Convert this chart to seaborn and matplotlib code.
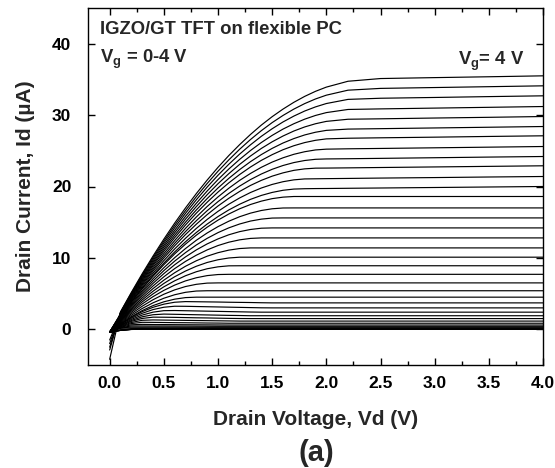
import matplotlib
matplotlib.use("Agg")
import matplotlib.pyplot as plt
from matplotlib.ticker import MultipleLocator, FormatStrFormatter
import pandas as pd
import seaborn as sns

# Drain voltage sample points (V)
vd = [0.0, 0.1, 0.2, 0.3, 0.4, 0.5, 0.6, 0.7, 0.8, 0.9, 1.0,
      1.1, 1.2, 1.3, 1.4, 1.5, 1.6, 1.7, 1.8, 1.9, 2.0,
      2.2, 2.5, 3.0, 3.5, 4.0]

# Gate voltages (V), 0.1 V steps from 4 V down to 0 V
vg = [4.0, 3.9, 3.8, 3.7, 3.6, 3.5, 3.4, 3.3, 3.2, 3.1, 3.0,
      2.9, 2.8, 2.7, 2.6, 2.5, 2.4, 2.3, 2.2, 2.1, 2.0,
      1.9, 1.8, 1.7, 1.6, 1.5, 1.4, 1.3, 1.2, 1.1, 1.0,
      0.9, 0.8, 0.7, 0.6, 0.5, 0.4, 0.3, 0.2, 0.1, 0.0]

# Drain current (uA) for each gate voltage, read at the vd points
id_vg40 = [-4.2, 2.44, 5.16, 7.77, 10.25, 12.62, 14.87, 17.00, 19.01, 20.90, 22.68, 24.34, 25.87, 27.29, 28.60, 29.78, 30.84, 31.79, 32.62, 33.33, 33.92, 34.74, 35.12, 35.25, 35.37, 35.50]
id_vg39 = [-2.9, 2.39, 5.06, 7.61, 10.04, 12.35, 14.55, 16.62, 18.58, 20.42, 22.14, 23.73, 25.22, 26.58, 27.82, 28.95, 29.95, 30.84, 31.61, 32.26, 32.79, 33.49, 33.74, 33.86, 33.98, 34.10]
id_vg38 = [-2.5, 2.33, 4.95, 7.45, 9.82, 12.08, 14.22, 16.24, 18.14, 19.92, 21.58, 23.12, 24.54, 25.84, 27.03, 28.09, 29.04, 29.86, 30.57, 31.15, 31.62, 32.20, 32.36, 32.47, 32.59, 32.70]
id_vg37 = [-2.0, 2.28, 4.83, 7.27, 9.59, 11.78, 13.86, 15.82, 17.65, 19.37, 20.97, 22.45, 23.80, 25.04, 26.16, 27.16, 28.04, 28.79, 29.43, 29.95, 30.35, 30.79, 30.87, 30.98, 31.09, 31.20]
id_vg36 = [-1.5, 2.22, 4.72, 7.10, 9.36, 11.50, 13.52, 15.42, 17.19, 18.85, 20.39, 21.80, 23.10, 24.27, 25.33, 26.26, 27.07, 27.77, 28.34, 28.79, 29.12, 29.42, 29.48, 29.59, 29.69, 29.80]
id_vg35 = [-0.4, 2.16, 4.61, 6.93, 9.13, 11.21, 13.17, 15.00, 16.72, 18.31, 19.79, 21.14, 22.37, 23.48, 24.47, 25.34, 26.09, 26.71, 27.22, 27.60, 27.86, 28.04, 28.10, 28.20, 28.30, 28.40]
id_vg34 = [-0.4, 2.11, 4.50, 6.76, 8.91, 10.93, 12.83, 14.61, 16.27, 17.80, 19.22, 20.51, 21.68, 22.73, 23.66, 24.46, 25.15, 25.71, 26.15, 26.47, 26.67, 26.76, 26.82, 26.91, 27.01, 27.10]
id_vg33 = [-0.4, 2.04, 4.37, 6.57, 8.64, 10.60, 12.43, 14.14, 15.73, 17.20, 18.54, 19.76, 20.86, 21.83, 22.69, 23.42, 24.02, 24.51, 24.87, 25.12, 25.23, 25.28, 25.33, 25.42, 25.51, 25.60]
id_vg32 = [-0.4, 1.98, 4.24, 6.38, 8.39, 10.28, 12.05, 13.69, 15.21, 16.61, 17.88, 19.03, 20.06, 20.97, 21.75, 22.41, 22.94, 23.35, 23.64, 23.81, 23.86, 23.89, 23.94, 24.03, 24.12, 24.20]
id_vg31 = [-0.4, 1.92, 4.13, 6.20, 8.15, 9.98, 11.69, 13.27, 14.72, 16.06, 17.27, 18.35, 19.31, 20.15, 20.86, 21.45, 21.91, 22.26, 22.47, 22.57, 22.58, 22.61, 22.66, 22.74, 22.82, 22.90]
id_vg30 = [-0.4, 1.85, 3.98, 5.99, 7.86, 9.62, 11.25, 12.75, 14.13, 15.39, 16.52, 17.52, 18.40, 19.16, 19.79, 20.29, 20.67, 20.93, 21.06, 21.08, 21.10, 21.13, 21.18, 21.25, 21.33, 21.40]
id_vg29 = [-0.4, 1.79, 3.85, 5.78, 7.59, 9.27, 10.83, 12.26, 13.56, 14.74, 15.79, 16.72, 17.52, 18.20, 18.75, 19.17, 19.47, 19.64, 19.69, 19.71, 19.72, 19.75, 19.79, 19.86, 19.93, 20.00]
id_vg28 = [-0.4, 1.75, 3.77, 5.66, 7.42, 9.05, 10.56, 11.93, 13.18, 14.30, 15.29, 16.15, 16.88, 17.48, 17.95, 18.30, 18.51, 18.60, 18.6, 18.6, 18.6, 18.6, 18.6, 18.6, 18.6, 18.6]
id_vg27 = [-0.4, 1.66, 3.60, 5.40, 7.08, 8.62, 10.03, 11.31, 12.47, 13.49, 14.38, 15.14, 15.77, 16.27, 16.64, 16.88, 16.99, 17.0, 17.0, 17.0, 17.0, 17.0, 17.0, 17.0, 17.0, 17.0]
id_vg26 = [-0.4, 1.59, 3.44, 5.17, 6.76, 8.22, 9.55, 10.74, 11.81, 12.74, 13.54, 14.21, 14.75, 15.16, 15.43, 15.58, 15.6, 15.6, 15.6, 15.6, 15.6, 15.6, 15.6, 15.6, 15.6, 15.6]
id_vg25 = [-0.4, 1.51, 3.28, 4.92, 6.43, 7.80, 9.04, 10.14, 11.12, 11.96, 12.66, 13.24, 13.68, 13.98, 14.16, 14.2, 14.2, 14.2, 14.2, 14.2, 14.2, 14.2, 14.2, 14.2, 14.2, 14.2]
id_vg24 = [-0.4, 1.42, 3.11, 4.66, 6.07, 7.35, 8.50, 9.51, 10.38, 11.12, 11.73, 12.20, 12.53, 12.73, 12.8, 12.8, 12.8, 12.8, 12.8, 12.8, 12.8, 12.8, 12.8, 12.8, 12.8, 12.8]
id_vg23 = [-0.4, 1.33, 2.92, 4.38, 5.70, 6.88, 7.92, 8.83, 9.60, 10.24, 10.73, 11.09, 11.31, 11.4, 11.4, 11.4, 11.4, 11.4, 11.4, 11.4, 11.4, 11.4, 11.4, 11.4, 11.4, 11.4]
id_vg22 = [-0.4, 1.24, 2.74, 4.11, 5.33, 6.42, 7.36, 8.16, 8.83, 9.36, 9.74, 9.99, 10.1, 10.1, 10.1, 10.1, 10.1, 10.1, 10.1, 10.1, 10.1, 10.1, 10.1, 10.1, 10.1, 10.1]
id_vg21 = [-0.4, 1.15, 2.57, 3.84, 4.96, 5.95, 6.79, 7.50, 8.06, 8.48, 8.75, 8.89, 8.9, 8.9, 8.9, 8.9, 8.9, 8.9, 8.9, 8.9, 8.9, 8.9, 8.9, 8.9, 8.9, 8.9]
id_vg20 = [-0.4, 1.06, 2.38, 3.55, 4.57, 5.45, 6.19, 6.78, 7.22, 7.52, 7.67, 7.7, 7.7, 7.7, 7.7, 7.7, 7.7, 7.7, 7.7, 7.7, 7.7, 7.7, 7.7, 7.7, 7.7, 7.7]
id_vg19 = [-0.4, 0.96, 2.17, 3.23, 4.14, 4.91, 5.52, 5.99, 6.30, 6.47, 6.5, 6.5, 6.5, 6.5, 6.5, 6.5, 6.5, 6.5, 6.5, 6.5, 6.5, 6.5, 6.5, 6.5, 6.5, 6.5]
id_vg18 = [-0.4, 0.86, 1.96, 2.91, 3.71, 4.35, 4.84, 5.18, 5.36, 5.4, 5.4, 5.4, 5.4, 5.4, 5.4, 5.4, 5.4, 5.4, 5.4, 5.4, 5.4, 5.4, 5.4, 5.4, 5.4, 5.4]
id_vg17 = [-0.4, 0.77, 1.77, 2.62, 3.32, 3.85, 4.22, 4.44, 4.5, 4.5, 4.5, 4.5, 4.5, 4.5, 4.5, 4.5, 4.5, 4.5, 4.5, 4.5, 4.5, 4.5, 4.5, 4.5, 4.5, 4.5]
id_vg16 = [-0.4, 0.73, 1.68, 2.47, 3.08, 3.52, 3.79, 3.88, 3.86, 3.84, 3.82, 3.79, 3.77, 3.75, 3.72, 3.70, 3.7, 3.7, 3.7, 3.7, 3.7, 3.7, 3.7, 3.7, 3.7, 3.7]
id_vg15 = [-0.4, 0.67, 1.55, 2.24, 2.76, 3.09, 3.23, 3.22, 3.19, 3.16, 3.13, 3.10, 3.07, 3.04, 3.01, 3.0, 3.0, 3.0, 3.0, 3.0, 3.0, 3.0, 3.0, 3.0, 3.0, 3.0]
id_vg14 = [-0.4, 0.59, 1.39, 1.99, 2.40, 2.61, 2.63, 2.60, 2.57, 2.54, 2.51, 2.48, 2.45, 2.42, 2.4, 2.4, 2.4, 2.4, 2.4, 2.4, 2.4, 2.4, 2.4, 2.4, 2.4, 2.4]
id_vg13 = [-0.4, 0.53, 1.24, 1.75, 2.04, 2.13, 2.10, 2.07, 2.04, 2.01, 1.98, 1.95, 1.93, 1.9, 1.9, 1.9, 1.9, 1.9, 1.9, 1.9, 1.9, 1.9, 1.9, 1.9, 1.9, 1.9]
id_vg12 = [-0.4, 0.47, 1.11, 1.52, 1.70, 1.69, 1.67, 1.64, 1.61, 1.59, 1.56, 1.53, 1.51, 1.5, 1.5, 1.5, 1.5, 1.5, 1.5, 1.5, 1.5, 1.5, 1.5, 1.5, 1.5, 1.5]
id_vg11 = [-0.4, 0.40, 0.95, 1.26, 1.31, 1.29, 1.27, 1.25, 1.23, 1.21, 1.19, 1.17, 1.15, 1.15, 1.15, 1.15, 1.15, 1.15, 1.15, 1.15, 1.15, 1.15, 1.15, 1.15, 1.15, 1.15]
id_vg10 = [-0.4, 0.34, 0.80, 0.98, 0.97, 0.95, 0.93, 0.92, 0.90, 0.88, 0.87, 0.85, 0.85, 0.85, 0.85, 0.85, 0.85, 0.85, 0.85, 0.85, 0.85, 0.85, 0.85, 0.85, 0.85, 0.85]
id_vg09 = [-0.4, 0.28, 0.63, 0.69, 0.67, 0.66, 0.65, 0.64, 0.63, 0.62, 0.61, 0.6, 0.6, 0.6, 0.6, 0.6, 0.6, 0.6, 0.6, 0.6, 0.6, 0.6, 0.6, 0.6, 0.6, 0.6]
id_vg08 = [-0.4, 0.22, 0.47, 0.47, 0.46, 0.46, 0.45, 0.45, 0.44, 0.43, 0.42, 0.42, 0.42, 0.42, 0.42, 0.42, 0.42, 0.42, 0.42, 0.42, 0.42, 0.42, 0.42, 0.42, 0.42, 0.42]
id_vg07 = [-0.4, 0.18, 0.32, 0.31, 0.31, 0.30, 0.30, 0.29, 0.29, 0.28, 0.28, 0.28, 0.28, 0.28, 0.28, 0.28, 0.28, 0.28, 0.28, 0.28, 0.28, 0.28, 0.28, 0.28, 0.28, 0.28]
id_vg06 = [-0.4, 0.14, 0.19, 0.19, 0.18, 0.18, 0.18, 0.18, 0.17, 0.17, 0.17, 0.17, 0.17, 0.17, 0.17, 0.17, 0.17, 0.17, 0.17, 0.17, 0.17, 0.17, 0.17, 0.17, 0.17, 0.17]
id_vg05 = [-0.4, -0.08, 0.08, 0.1, 0.1, 0.1, 0.1, 0.1, 0.1, 0.1, 0.1, 0.1, 0.1, 0.1, 0.1, 0.1, 0.1, 0.1, 0.1, 0.1, 0.1, 0.1, 0.1, 0.1, 0.1, 0.1]
id_vg04 = [-0.4, -0.11, 0.03, 0.05, 0.05, 0.05, 0.05, 0.05, 0.05, 0.05, 0.05, 0.05, 0.05, 0.05, 0.05, 0.05, 0.05, 0.05, 0.05, 0.05, 0.05, 0.05, 0.05, 0.05, 0.05, 0.05]
id_vg03 = [-0.4, -0.13, 0.0, 0.02, 0.02, 0.02, 0.02, 0.02, 0.02, 0.02, 0.02, 0.02, 0.02, 0.02, 0.02, 0.02, 0.02, 0.02, 0.02, 0.02, 0.02, 0.02, 0.02, 0.02, 0.02, 0.02]
id_vg02 = [-0.4, -0.14, -0.01, 0.01, 0.01, 0.01, 0.01, 0.01, 0.01, 0.01, 0.01, 0.01, 0.01, 0.01, 0.01, 0.01, 0.01, 0.01, 0.01, 0.01, 0.01, 0.01, 0.01, 0.01, 0.01, 0.01]
id_vg01 = [-0.4, -0.15, -0.02, 0.0, 0.0, 0.0, 0.0, 0.0, 0.0, 0.0, 0.0, 0.0, 0.0, 0.0, 0.0, 0.0, 0.0, 0.0, 0.0, 0.0, 0.0, 0.0, 0.0, 0.0, 0.0, 0.0]
id_vg00 = [-0.4, -0.15, -0.02, 0.0, 0.0, 0.0, 0.0, 0.0, 0.0, 0.0, 0.0, 0.0, 0.0, 0.0, 0.0, 0.0, 0.0, 0.0, 0.0, 0.0, 0.0, 0.0, 0.0, 0.0, 0.0, 0.0]

id_curves = [id_vg40, id_vg39, id_vg38, id_vg37, id_vg36, id_vg35, id_vg34, id_vg33,
             id_vg32, id_vg31, id_vg30, id_vg29, id_vg28, id_vg27, id_vg26, id_vg25,
             id_vg24, id_vg23, id_vg22, id_vg21, id_vg20, id_vg19, id_vg18, id_vg17,
             id_vg16, id_vg15, id_vg14, id_vg13, id_vg12, id_vg11, id_vg10, id_vg09,
             id_vg08, id_vg07, id_vg06, id_vg05, id_vg04, id_vg03, id_vg02, id_vg01,
             id_vg00]

rows = []
for g, curve in zip(vg, id_curves):
    if len(curve) != len(vd):
        raise ValueError(f"curve for Vg={g} has {len(curve)} points")
    for v, i in zip(vd, curve):
        rows.append((g, v, i))
df = pd.DataFrame(rows, columns=["Vg", "Vd", "Id"])

sns.set_style("ticks")
plt.rcParams["font.family"] = ["Liberation Sans", "DejaVu Sans"]
plt.rcParams["font.weight"] = "bold"
plt.rcParams["axes.labelweight"] = "bold"
plt.rcParams["mathtext.fontset"] = "custom"
plt.rcParams["mathtext.rm"] = "Liberation Sans:bold"
plt.rcParams["mathtext.it"] = "Liberation Sans:bold"
plt.rcParams["mathtext.bf"] = "Liberation Sans:bold"
plt.rcParams["mathtext.default"] = "rm"

fig = plt.figure(figsize=(5.55, 4.68), dpi=100)
ax = fig.add_axes([88 / 555, 1 - 365 / 468, 455 / 555, 357 / 468])

sns.lineplot(data=df, x="Vd", y="Id", units="Vg", estimator=None,
             color="black", linewidth=0.85, ax=ax, legend=False)

ax.set_xlim(-0.2, 4.0)
ax.set_ylim(-5, 45)
ax.xaxis.set_major_locator(MultipleLocator(0.5))
ax.xaxis.set_minor_locator(MultipleLocator(0.25))
ax.xaxis.set_major_formatter(FormatStrFormatter("%.1f"))
ax.yaxis.set_major_locator(MultipleLocator(10))
ax.yaxis.set_major_formatter(FormatStrFormatter("%d"))

ax.tick_params(which="both", direction="in", top=True, right=True,
               colors="black", width=1.0)
ax.tick_params(which="major", length=5)
ax.tick_params(which="minor", length=3)
ax.tick_params(axis="x", which="major", labelsize=12.5, pad=8)
ax.tick_params(axis="y", which="major", labelsize=12.5, pad=12)
for lab in ax.get_xticklabels() + ax.get_yticklabels():
    lab.set_fontweight("bold")
for sp in ax.spines.values():
    sp.set_linewidth(1.0)
    sp.set_color("black")

ax.set_xlabel("Drain Voltage, Vd (V)", fontsize=15, fontweight="bold", labelpad=13.5)
ax.set_ylabel("Drain Current, Id (\u00b5A)", fontsize=15, fontweight="bold", labelpad=12)

ax.text(-0.085, 41.4, "IGZO/GT TFT on flexible PC", fontsize=13.3,
        fontweight="bold", va="baseline", ha="left")
ax.text(-0.085, 37.3, r"V$_g$ = 0-4 V", fontsize=13.3,
        fontweight="bold", va="baseline", ha="left")
ax.text(3.215, 37.0, r"V$_g$= 4 V", fontsize=13.3,
        fontweight="bold", va="baseline", ha="left")

fig.text(316 / 555, 1 - 453 / 468, "(a)", fontsize=21, fontweight="bold",
         ha="center", va="center")

fig.savefig("out.png", dpi=100)
